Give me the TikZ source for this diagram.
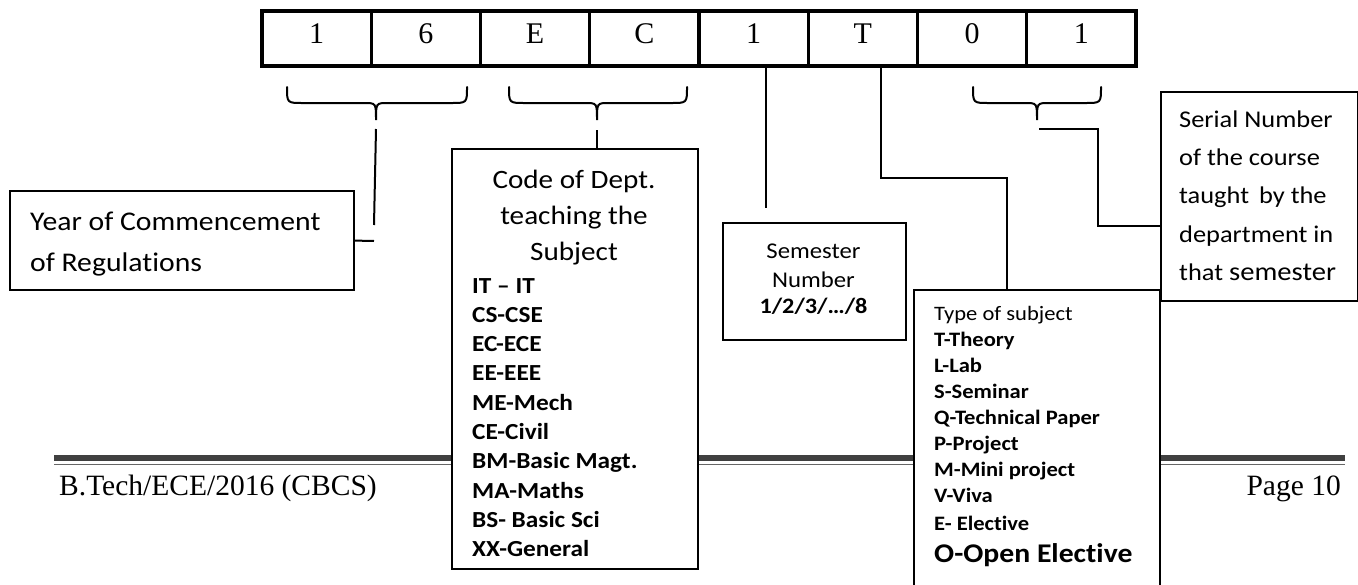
\documentclass[tikz,border=0pt]{standalone}
\usepackage{fontspec}
\setmainfont{Carlito}[FakeStretch=1.1, Ligatures=NoCommon]
\newfontfamily\tnr{Liberation Serif}
\begin{document}
\begin{tikzpicture}[x=1pt,y=-1pt,
  frame/.style={draw, line width=2.2pt, fill=white, inner sep=0pt, anchor=north west},
  conn/.style={line width=2pt},
  cellbox/.style={draw, line width=3.2pt, minimum width=109.25pt, minimum height=55pt, inner sep=0pt},
  digit/.style={anchor=base, inner sep=0pt, font=\tnr\fontsize{30}{30}\selectfont},
  foot/.style={inner sep=0pt, font=\tnr\fontsize{29.5}{30}\selectfont},
  txt/.style={anchor=base west, inner sep=0pt, font=\fontsize{#1}{#1}\selectfont},
  ctxt/.style={anchor=base, inner sep=0pt, font=\fontsize{#1}{#1}\selectfont},
  btxt/.style={anchor=base west, inner sep=0pt, font=\bfseries\fontsize{#1}{#1}\selectfont},
  cbtxt/.style={anchor=base, inner sep=0pt, font=\bfseries\fontsize{#1}{#1}\selectfont},
  brace/.style={line width=2pt, line cap=round}]
\useasboundingbox (0,0) rectangle (1358,584);
\clip (0,0) rectangle (1358,584);

% footer rules
\draw[line width=6pt, black!75] (54,458) -- (1345,458);
\draw[line width=1.3pt, black!60] (54,464.5) -- (1345,464.5);
\node[foot, anchor=base west] (footl) at (59,495) {B.Tech/ECE/2016 (CBCS)};
\node[foot, anchor=base east] (footr) at (1341,495) {Page 10};

% code cells
\foreach \t [count=\i] in {1,6,E,C,1,T,0,1} {
  \node[cellbox] (cell\i) at ({262+109.25*(\i-0.5)},38.5) {};
  \node[digit] (dig\i) at ({262+109.25*(\i-0.5)},43) {\t};
}

% braces
\foreach \a/\m/\b [count=\i] in {287/376/467, 509/597/687, 973/1037/1101} {
  \draw[brace] (\a,87) .. controls (\a,103) .. (\a+16,103) -- (\m-12,103)
     .. controls (\m,103) .. (\m,120) .. controls (\m,103) .. (\m+12,103)
     -- (\b-16,103) .. controls (\b,103) .. (\b,87);
  \coordinate (tip\i) at (\m,120);
}

% boxes
\node[frame, minimum width=344pt, minimum height=99pt] (year) at (9,190) {};
\node[frame, minimum width=246pt, minimum height=420pt] (code) at (451,148) {};
\node[frame, minimum width=183pt, minimum height=117pt] (sem) at (722,222) {};
\node[frame, minimum width=197pt, minimum height=209pt] (serial) at (1160,91) {};
\node[frame, minimum width=246pt, minimum height=330pt] (type) at (913,289) {};

% connectors
\coordinate (y1s) at (376,129);
\coordinate (y1e) at (374,225);
\coordinate (y2e) at (374,241);
\draw[conn] (y1s) -- (y1e);
\draw[conn] (year.east) -- (y2e);
\coordinate (c0) at (597,130);
\draw[conn] (c0) -- (c0 |- code.north);
\coordinate (s1) at (766,208);
\draw[conn] (s1 |- cell5.south) -- (s1);
\coordinate (t0) at (881,178);
\coordinate (t1) at (1007,178);
\draw[conn] (t0 |- cell6.south) -- (t0) -- (t1) -- (t1 |- type.north);
\coordinate (r0) at (1039,129);
\coordinate (r1) at (1098,129);
\coordinate (r2) at (1098,226);
\draw[conn] (r0) -- (r1) -- (r2) -- (r2 -| serial.west);

% year text
\node[txt=27] (yt1) at (30,230) {Year of Commencement};
\node[txt=27] (yt2) at (30,271) {of Regulations};

% code text
\node[ctxt=26.5] (ct1) at (574,188) {Code of Dept.};
\node[ctxt=26.5] (ct2) at (574,224) {teaching the};
\node[ctxt=26.5] (ct3) at (574,260) {Subject};
\foreach \s [count=\k] in {IT – IT, CS-CSE, EC-ECE, EE-EEE, ME-Mech, CE-Civil, BM-Basic Magt., MA-Maths, BS- Basic Sci, XX-General} {
  \node[btxt=23] (cl\k) at (472,{293+29.33*(\k-1)}) {\s};
}

% semester text
\node[ctxt=22.5] (st1) at (813.5,258) {Semester};
\node[ctxt=22.5] (st2) at (813.5,287) {Number};
\node[cbtxt=22] (st3) at (813.5,313) {1/2/3/…/8};

% type text
\node[txt=20.5] (tt0) at (934,320) {Type of subject};
\foreach \s/\yy [count=\k] in {T-Theory/346, L-Lab/372, S-Seminar/398, Q-Technical Paper/424, P-Project/450, M-Mini project/476, V-Viva/502, E- Elective/530} {
  \node[btxt=20.5] (tt\k) at (934,\yy) {\s};
}
\node[btxt=27] (tt9) at (934,562) {O-Open Elective};

% serial text
\node[txt=24] (sr1) at (1179,127) {Serial Number};
\node[txt=24] (sr2) at (1179,165) {of the course};
\node[txt=24] (sr3) at (1179,203) {taught\, by the};
\node[txt=24] (sr4) at (1179,242) {department in};
\node[txt=24] (sr5) at (1179,280) {that {\fontsize{26}{26}\selectfont semester}};
\end{tikzpicture}
\end{document}
